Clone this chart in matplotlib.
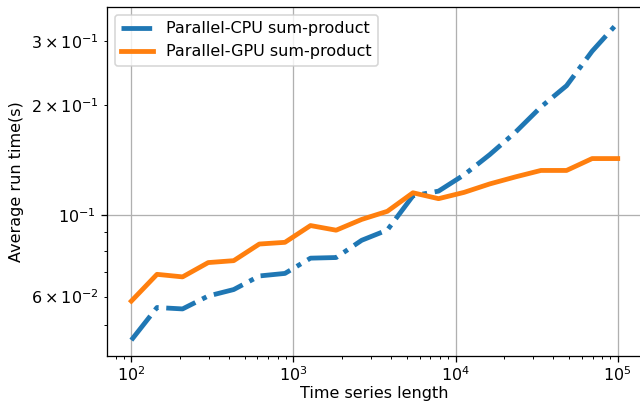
import matplotlib
matplotlib.use("Agg")
import matplotlib.pyplot as plt

# Time series lengths (log-spaced between 1e2 and 1e5)
lengths = [100, 144, 207, 298, 428, 616, 886, 1274, 1833, 2636, 3793,
           5456, 7848, 11288, 16238, 23357, 33598, 48329, 69519, 100000]

# Average run time in seconds
cpu_times = [0.0456, 0.0560, 0.0555, 0.0602, 0.0627, 0.0683, 0.0694, 0.0764,
             0.0767, 0.0855, 0.0912, 0.1131, 0.1165, 0.1291, 0.1466, 0.1687,
             0.1979, 0.2262, 0.2811, 0.3360]
gpu_times = [0.0583, 0.0690, 0.0679, 0.0743, 0.0752, 0.0835, 0.0844, 0.0938,
             0.0911, 0.0975, 0.1026, 0.1153, 0.1111, 0.1156, 0.1219, 0.1274,
             0.1327, 0.1327, 0.1430, 0.1430]

DPI = 115
fig = plt.figure(figsize=(640 / DPI, 405 / DPI), dpi=DPI)
ax = fig.add_axes([0.1672, 0.121, 0.836, 0.8617])

ax.plot(lengths, cpu_times, linestyle="-.", linewidth=3, color="#1f77b4",
        label="Parallel-CPU sum-product")
ax.plot(lengths, gpu_times, linestyle="-", linewidth=3, color="#ff7f0e",
        label="Parallel-GPU sum-product")

ax.set_xscale("log")
ax.set_yscale("log")
ax.grid(True, which="major")
ax.tick_params(axis="x", which="both", pad=2.5)
ax.set_xlabel("Time series length", labelpad=1)
ax.set_ylabel("Average run time(s)")
ax.legend(loc="upper left")

fig.savefig("out.png", dpi=DPI)
